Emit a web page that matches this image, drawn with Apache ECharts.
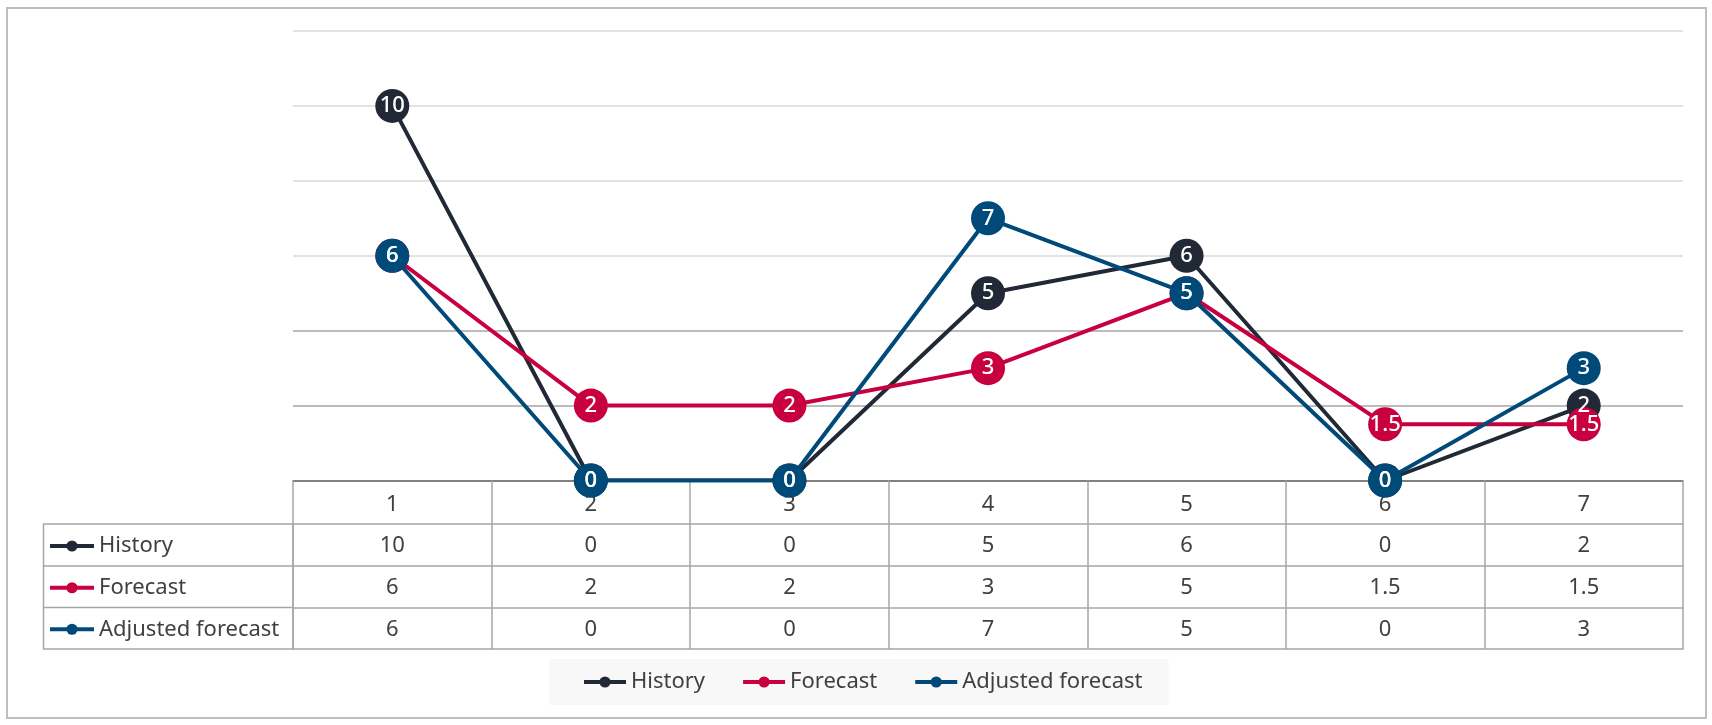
<!DOCTYPE html>
<html>
<head>
<meta charset="utf-8">
<script src="https://cdn.jsdelivr.net/npm/echarts@6/dist/echarts.min.js"></script>
<style>
  html, body { margin: 0; padding: 0; background: #fff; }
  #chart { width: 1712px; height: 725px; }
</style>
</head>
<body>
<div id="chart"></div>
<script>
// data
const categories = ['1', '2', '3', '4', '5', '6', '7'];
const history = [10, 0, 0, 5, 6, 0, 2];
const forecast = [6, 2, 2, 3, 5, 1.5, 1.5];
const adjusted = [6, 0, 0, 7, 5, 0, 3];
const seriesNames = ['History', 'Forecast', 'Adjusted forecast'];

const FONT = 'Noto Sans';
const TXT = '#404040';
const CELL = '#a6a6a6';
const colors = ['#222936', '#c8003f', '#004a7a'];

const gridLeft = 293, gridRight = 29, gridTop = 31, gridBottom = 244.5;
const rowH = [43.5, 42, 41.5, 41.5]; // header, History, Forecast, Adjusted

// offsets of each row line below the x axis
let offs = [0];
rowH.forEach((h, i) => offs.push(offs[i] + h));

function rowAxis (vals, offset, h) {
  return {
    type: 'category',
    gridIndex: 0,
    position: 'bottom',
    offset: offset,
    data: vals.map(v => String(v)),
    axisLine: { show: true, lineStyle: { color: CELL, width: 1.5 } },
    axisTick: { show: true, length: h, lineStyle: { color: CELL, width: 1.5 } },
    axisLabel: { show: true, margin: 11, fontSize: 22, fontFamily: FONT, color: TXT },
    splitLine: { show: false }
  }
}

function lineSeries (name, vals, i) {
  return {
    name: name,
    type: 'line',
    data: vals,
    symbol: 'circle',
    symbolSize: 34,
    color: colors[i],
    lineStyle: { width: 4, color: colors[i] },
    itemStyle: { color: colors[i] },
    label: {
      show: true,
      position: 'inside',
      color: '#fff',
      fontSize: 22,
      fontWeight: 500,
      fontFamily: FONT
    },
    emphasis: { disabled: true }
  }
}

const axisY = 725 - gridBottom;
const legendText = { fontSize: 22, fontFamily: FONT, color: TXT, lineHeight: 26 };
const labelLegends = seriesNames.map((n, i) => ({
  data: [n],
  left: 43,
  top: axisY + offs[i + 1] + (rowH[i + 1] - 26) / 2 + 1,
  padding: [0, 5],
  itemWidth: 44,
  itemHeight: 14,
  lineStyle: { width: 4 },
  textStyle: legendText
}));

const chart = echarts.init(document.getElementById('chart'));
const option = {
  animation: false,
  backgroundColor: '#fff',
  grid: { left: gridLeft, right: gridRight, top: gridTop, bottom: gridBottom },
  legend: [
    {
      data: seriesNames,
      left: 549,
      top: 659,
      padding: [10, 26, 10, 33],
      backgroundColor: '#f8f8f8',
      itemGap: 36,
      itemWidth: 42,
      itemHeight: 14,
      lineStyle: { width: 4 },
      textStyle: legendText
    }
  ].concat(labelLegends),
  xAxis: [
    {
      type: 'category',
      data: categories,
      position: 'bottom',
      axisLine: { show: true, lineStyle: { color: '#6e6e6e', width: 1.5 } },
      axisTick: { show: true, length: rowH[0], lineStyle: { color: CELL, width: 1.5 } },
      axisLabel: { margin: 13, fontSize: 22, fontFamily: FONT, color: TXT },
      splitLine: { show: false }
    },
    rowAxis(history, offs[1], rowH[1]),
    rowAxis(forecast, offs[2], rowH[2]),
    rowAxis(adjusted, offs[3], rowH[3]),
    {
      type: 'category',
      position: 'bottom',
      offset: offs[4],
      data: categories,
      axisLine: { show: true, lineStyle: { color: CELL, width: 1.5 } },
      axisTick: { show: false },
      axisLabel: { show: false }
    }
  ],
  yAxis: {
    type: 'value',
    min: 0,
    max: 12,
    interval: 2,
    axisLabel: { show: false },
    axisLine: { show: false },
    axisTick: { show: false },
    splitLine: {
      lineStyle: {
        color: ['#a6a6a6', '#a6a6a6', '#a6a6a6', '#d9d9d9', '#d9d9d9', '#d9d9d9', '#d9d9d9'],
        width: 1.5
      }
    }
  },
  graphic: [
    {
      type: 'rect',
      shape: { x: 7, y: 8, width: 1699, height: 710 },
      style: { fill: 'none', stroke: '#bfbfbf', lineWidth: 2 },
      silent: true
    },
    {
      type: 'rect',
      shape: { x: 43.5, y: axisY + offs[1], width: gridLeft - 43.5, height: offs[4] - offs[1] },
      style: { fill: 'none', stroke: CELL, lineWidth: 1.5 },
      silent: true
    },
    {
      type: 'line',
      shape: { x1: 43.5, y1: axisY + offs[2], x2: gridLeft, y2: axisY + offs[2] },
      style: { stroke: CELL, lineWidth: 1.5 },
      silent: true
    },
    {
      type: 'line',
      shape: { x1: 43.5, y1: axisY + offs[3], x2: gridLeft, y2: axisY + offs[3] },
      style: { stroke: CELL, lineWidth: 1.5 },
      silent: true
    }
  ],
  series: [
    lineSeries(seriesNames[0], history, 0),
    lineSeries(seriesNames[1], forecast, 1),
    lineSeries(seriesNames[2], adjusted, 2)
  ]
};
chart.setOption(option);
</script>
</body>
</html>
